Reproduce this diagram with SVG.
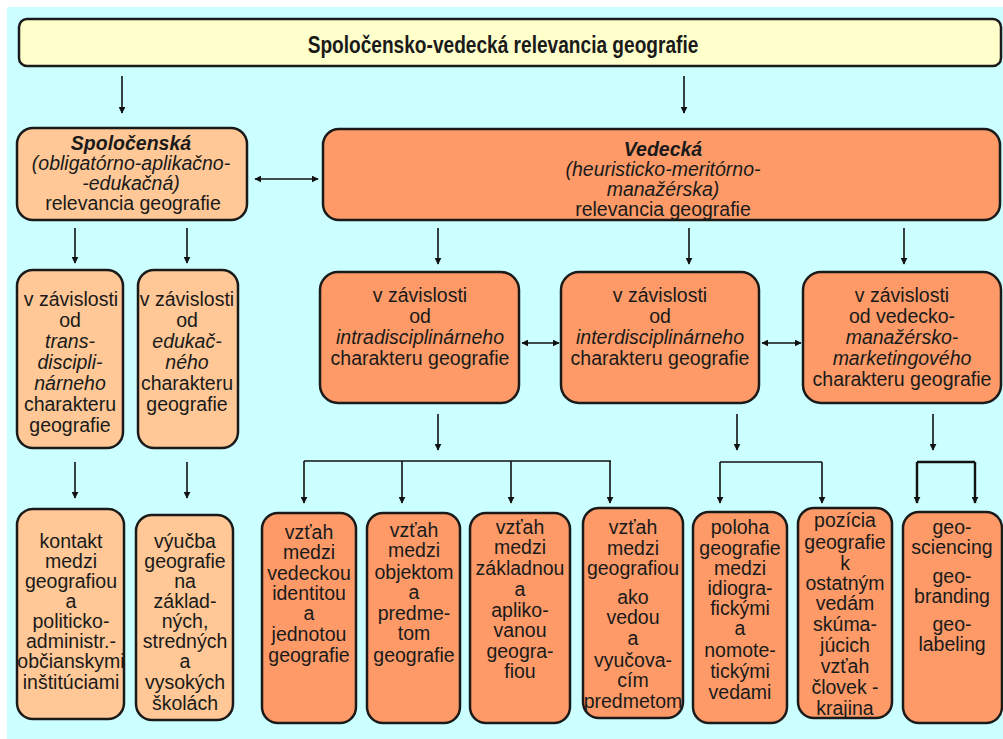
<svg xmlns="http://www.w3.org/2000/svg" width="1003" height="739" viewBox="0 0 1003 739">
<defs>
<marker id="ah" viewBox="0 0 10 10" refX="9" refY="5" markerWidth="7" markerHeight="7" markerUnits="userSpaceOnUse" orient="auto-start-reverse">
<path d="M0,0 L10,5 L0,10 z" fill="#111"/>
</marker>
<style>
.bx{stroke:#1a1a1a;stroke-width:2.5}
.tb{fill:#ffffcc}
.lt{fill:#ffc896}
.dk{fill:#fd9a68}
text{font-family:"Liberation Sans",Arial,sans-serif;font-size:19.5px;fill:#1a1a1a;text-anchor:middle}
.i{font-style:italic}
.b{font-weight:bold}
.c line,.c path{stroke:#111;stroke-width:1.6;fill:none}
</style>
</defs>
<rect x="0" y="0" width="1003" height="739" fill="#ffffff"/>
<rect x="7" y="7" width="996" height="732" fill="#ccffff"/>

<g id="top">
<rect class="bx tb" x="19" y="19" width="982" height="47" rx="8"/>
<text class="b" transform="translate(503,53) scale(0.98,1.18)" x="0" y="0" font-size="18.5">Spoločensko-vedecká relevancia geografie</text>
</g>

<g id="spol">
<rect class="bx lt" x="17" y="128" width="230" height="92" rx="16"/>
<text class="b i" x="131" y="150">Spoločenská</text>
<text class="i" x="131" y="170">(obligatórno-aplikačno-</text>
<text class="i" x="131" y="190">-edukačná)</text>
<text x="133" y="210">relevancia geografie</text>
</g>

<g id="ved">
<rect class="bx dk" x="323" y="129" width="677" height="91" rx="16"/>
<text class="b i" x="663" y="156" font-size="18.5">Vedecká</text>
<text class="i" x="663" y="176" font-size="18.5">(heuristicko-meritórno-</text>
<text class="i" x="663" y="196" font-size="18.5">manažérska)</text>
<text x="663" y="216" font-size="18.5">relevancia geografie</text>
</g>

<g id="trans">
<rect class="bx lt" x="17" y="270" width="106" height="178" rx="16"/>
<text x="71" y="306">v závislosti</text>
<text x="70" y="327">od</text>
<text class="i" x="70" y="348">trans-</text>
<text class="i" x="70" y="369">discipli-</text>
<text class="i" x="70" y="390">nárneho</text>
<text x="70" y="411">charakteru</text>
<text x="70" y="432">geografie</text>
</g>

<g id="eduk">
<rect class="bx lt" x="138" y="270" width="100" height="178" rx="16"/>
<text x="187" y="306">v závislosti</text>
<text x="187" y="327">od</text>
<text class="i" x="187" y="348">edukač-</text>
<text class="i" x="187" y="369">ného</text>
<text x="187" y="390">charakteru</text>
<text x="187" y="411">geografie</text>
</g>

<g id="intra">
<rect class="bx dk" x="320" y="272" width="199" height="131" rx="18"/>
<text x="420" y="302">v závislosti</text>
<text x="420" y="323">od</text>
<text class="i" x="420" y="344">intradisciplinárneho</text>
<text x="420" y="365">charakteru geografie</text>
</g>

<g id="inter">
<rect class="bx dk" x="561" y="272" width="198" height="131" rx="18"/>
<text x="660" y="302">v závislosti</text>
<text x="660" y="323">od</text>
<text class="i" x="660" y="344">interdisciplinárneho</text>
<text x="660" y="365">charakteru geografie</text>
</g>

<g id="mark">
<rect class="bx dk" x="803" y="272" width="198" height="131" rx="18"/>
<text x="902" y="302">v závislosti</text>
<text x="902" y="323">od vedecko-</text>
<text class="i" x="902" y="344">manažérsko-</text>
<text class="i" x="902" y="365">marketingového</text>
<text x="902" y="386">charakteru geografie</text>
</g>

<g id="kontakt">
<rect class="bx lt" x="17" y="509" width="107" height="210" rx="16"/>
<text x="71" y="548">kontakt</text>
<text x="71" y="568">medzi</text>
<text x="71" y="588">geografiou</text>
<text x="71" y="608">a</text>
<text x="71" y="628">politicko-</text>
<text x="71" y="648">administr.-</text>
<text x="71" y="668">občianskymi</text>
<text x="71" y="689">inštitúciami</text>
</g>

<g id="vyucba">
<rect class="bx lt" x="136" y="515" width="97" height="205" rx="16"/>
<text x="185" y="548">výučba</text>
<text x="185" y="568">geografie</text>
<text x="185" y="588">na</text>
<text x="185" y="608">základ-</text>
<text x="185" y="628">ných,</text>
<text x="185" y="648">stredných</text>
<text x="185" y="668">a</text>
<text x="185" y="689">vysokých</text>
<text x="185" y="710">školách</text>
</g>

<g id="identita">
<rect class="bx dk" x="262" y="513" width="94" height="210" rx="16"/>
<text x="309" y="539">vzťah</text>
<text x="309" y="559">medzi</text>
<text x="309" y="580">vedeckou</text>
<text x="309" y="600">identitou</text>
<text x="309" y="620">a</text>
<text x="309" y="641">jednotou</text>
<text x="309" y="662">geografie</text>
</g>

<g id="objekt">
<rect class="bx dk" x="367" y="513" width="93" height="210" rx="16"/>
<text x="414" y="537">vzťah</text>
<text x="414" y="557">medzi</text>
<text x="414" y="579">objektom</text>
<text x="414" y="599">a</text>
<text x="414" y="620">predme-</text>
<text x="414" y="640">tom</text>
<text x="414" y="662">geografie</text>
</g>

<g id="zakladna">
<rect class="bx dk" x="470" y="513" width="100" height="210" rx="16"/>
<text x="520" y="534">vzťah</text>
<text x="520" y="554">medzi</text>
<text x="520" y="575">základnou</text>
<text x="520" y="596">a</text>
<text x="520" y="617">apliko-</text>
<text x="520" y="637">vanou</text>
<text x="520" y="658">geogra-</text>
<text x="520" y="678">fiou</text>
</g>

<g id="predmet">
<rect class="bx dk" x="583" y="508" width="100" height="210" rx="16"/>
<text x="633" y="534">vzťah</text>
<text x="633" y="555">medzi</text>
<text x="633" y="575">geografiou</text>
<text x="633" y="604">ako</text>
<text x="633" y="624">vedou</text>
<text x="633" y="645">a</text>
<text x="633" y="667">vyučova-</text>
<text x="633" y="687">cím</text>
<text x="633" y="708">predmetom</text>
</g>

<g id="poloha">
<rect class="bx dk" x="693" y="512" width="94" height="211" rx="16"/>
<text x="740" y="534">poloha</text>
<text x="740" y="555">geografie</text>
<text x="740" y="575">medzi</text>
<text x="740" y="595">idiogra-</text>
<text x="740" y="615">fickými</text>
<text x="740" y="635">a</text>
<text x="740" y="657">nomote-</text>
<text x="740" y="678">tickými</text>
<text x="740" y="699">vedami</text>
</g>

<g id="pozicia">
<rect class="bx dk" x="798" y="508" width="94" height="210" rx="16"/>
<text x="845" y="527">pozícia</text>
<text x="845" y="549">geografie</text>
<text x="845" y="570">k</text>
<text x="845" y="590">ostatným</text>
<text x="845" y="610">vedám</text>
<text x="845" y="631">skúma-</text>
<text x="845" y="652">júcich</text>
<text x="845" y="673">vzťah</text>
<text x="845" y="694">človek -</text>
<text x="845" y="715">krajina</text>
</g>

<g id="geo">
<rect class="bx dk" x="903" y="512" width="99" height="211" rx="16"/>
<text x="952" y="534">geo-</text>
<text x="952" y="554">sciencing</text>
<text x="952" y="583">geo-</text>
<text x="952" y="603">branding</text>
<text x="952" y="631">geo-</text>
<text x="952" y="651">labeling</text>
</g>

<g id="connectors" class="c">
<line x1="122" y1="76" x2="122" y2="113" marker-end="url(#ah)"/>
<line x1="684" y1="76" x2="684" y2="113" marker-end="url(#ah)"/>
<line x1="255" y1="179" x2="318" y2="179" marker-start="url(#ah)" marker-end="url(#ah)"/>
<line x1="75" y1="228" x2="75" y2="263" marker-end="url(#ah)"/>
<line x1="187" y1="228" x2="187" y2="263" marker-end="url(#ah)"/>
<line x1="438" y1="228" x2="438" y2="264" marker-end="url(#ah)"/>
<line x1="689" y1="228" x2="689" y2="264" marker-end="url(#ah)"/>
<line x1="904" y1="228" x2="904" y2="264" marker-end="url(#ah)"/>
<line x1="522" y1="343" x2="559" y2="343" marker-start="url(#ah)" marker-end="url(#ah)"/>
<line x1="762" y1="343" x2="801" y2="343" marker-start="url(#ah)" marker-end="url(#ah)"/>
<line x1="75" y1="462" x2="75" y2="498" marker-end="url(#ah)"/>
<line x1="187" y1="462" x2="187" y2="498" marker-end="url(#ah)"/>
<line x1="438" y1="414" x2="438" y2="450" marker-end="url(#ah)"/>
<path d="M304,461 H611"/>
<line x1="304" y1="461" x2="304" y2="503" marker-end="url(#ah)"/>
<line x1="402" y1="461" x2="402" y2="503" marker-end="url(#ah)"/>
<line x1="511" y1="461" x2="511" y2="503" marker-end="url(#ah)"/>
<line x1="610" y1="461" x2="610" y2="503" marker-end="url(#ah)"/>
<line x1="737" y1="414" x2="737" y2="450" marker-end="url(#ah)"/>
<path d="M720,462 H822"/>
<line x1="720" y1="462" x2="720" y2="503" marker-end="url(#ah)"/>
<line x1="822" y1="462" x2="822" y2="503" marker-end="url(#ah)"/>
<line x1="933" y1="414" x2="933" y2="450" marker-end="url(#ah)"/>
<path d="M917,462 H975" style="stroke-width:2.6"/>
<line x1="917" y1="462" x2="917" y2="503" marker-end="url(#ah)" style="stroke-width:2.4"/>
<line x1="975" y1="462" x2="975" y2="503" marker-end="url(#ah)" style="stroke-width:2.4"/>
</g>
</svg>
